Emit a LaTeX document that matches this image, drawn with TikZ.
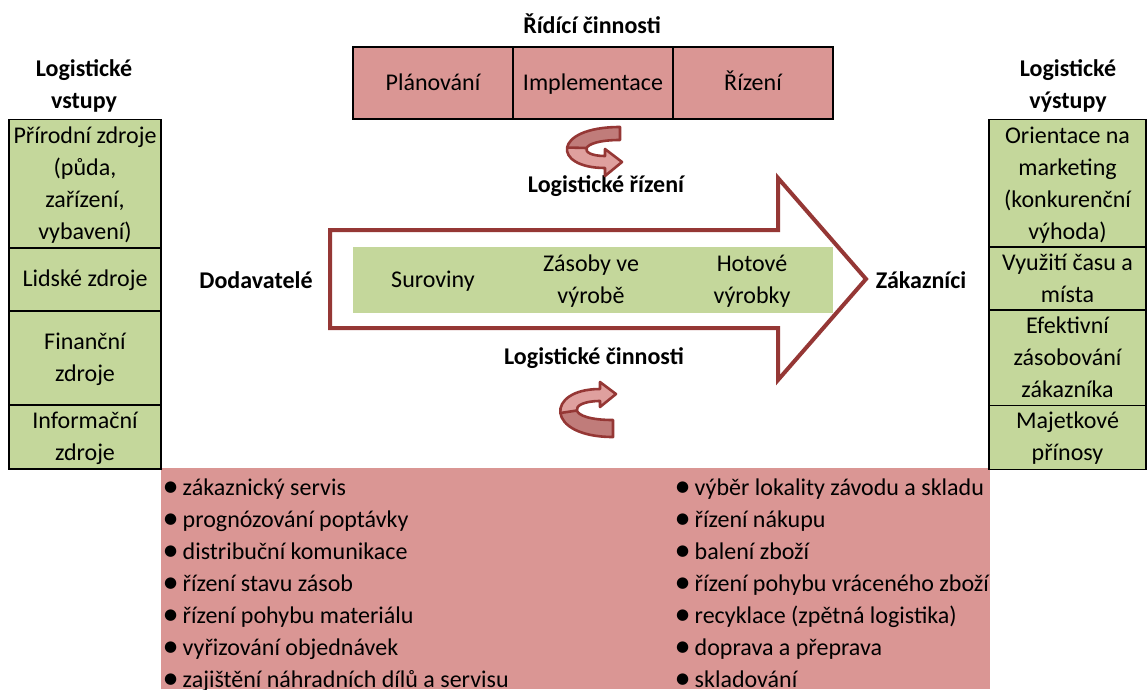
\documentclass[tikz,border=0pt]{standalone}
\usepackage{fontspec}
\setmainfont{Carlito}
\newfontfamily\dejavu{DejaVu Sans}
\definecolor{pinkfill}{HTML}{DA9694}
\definecolor{greenfill}{HTML}{C4D79B}
\definecolor{darkred}{HTML}{953735}
\definecolor{arrowfill}{HTML}{DFA09E}
\definecolor{arrowback}{HTML}{C07C7A}
\newcommand\ms{\rule[-9pt]{0pt}{32pt}}
\newcommand\bul{\raisebox{3.5pt}{\dejavu\fontsize{15}{15}\selectfont ●}}
\begin{document}
\begin{tikzpicture}[x=1pt,y=-1pt,
  txt/.style={inner sep=0pt, font=\fontsize{24}{32}\selectfont, align=center},
  btxt/.style={inner sep=0pt, font=\fontsize{24}{32}\selectfont\bfseries, align=center},
  box/.style={txt, draw=black, line width=1.5pt},
  gbox/.style={box, fill=greenfill},
  pbox/.style={box, fill=pinkfill},
  bigarrow/.style={draw=darkred, line width=4pt, fill=white, line join=miter},
  turnfront/.style={fill=arrowfill},
  turnback/.style={fill=arrowback},
  turnline/.style={draw=darkred, line width=2.6pt, line join=round}]
\useasboundingbox (0,0) rectangle (1147,689);

% bottom activities area
\fill[pinkfill] (161,468) rectangle (990,689);

% headers
\node[btxt] (hin) at (84,85.5) {\ms Logistické\\vstupy\ms};
\node[btxt] (hout) at (1068,85.5) {\ms Logistické\\výstupy\ms};
\node[btxt] (hctrl) at (592,26) {\ms Řídící činnosti};

% left input boxes
\node[gbox, minimum width=152, minimum height=129] (in1) at (85,184) {\ms Přírodní zdroje\\(půda,\\zařízení,\\vybavení)\ms};
\node[gbox, minimum width=152, minimum height=63] (in2) at (85,279.5) {\ms Lidské zdroje\ms};
\node[gbox, minimum width=152, minimum height=95] (in3) at (85,358.5) {\ms Finanční\\zdroje\ms};
\node[gbox, minimum width=152, minimum height=62] (in4) at (85,437) {\ms Informační\\zdroje\ms};

% right output boxes
\node[gbox, minimum width=157, minimum height=129] (out1) at (1067.5,184) {\ms Orientace na\\marketing\\(konkurenční\\výhoda)\ms};
\node[gbox, minimum width=157, minimum height=62] (out2) at (1067.5,279) {\ms Využití času a\\místa\ms};
\node[gbox, minimum width=157, minimum height=97] (out3) at (1067.5,358.5) {\ms Efektivní\\zásobování\\zákazníka\ms};
\node[gbox, minimum width=157, minimum height=61] (out4) at (1067.5,437.5) {\ms Majetkové\\přínosy\ms};

% control boxes
\node[pbox, minimum width=160, minimum height=72] (plan) at (433,83) {\ms Plánování};
\node[pbox, minimum width=160, minimum height=72] (impl) at (593,83) {\ms Implementace};
\node[pbox, minimum width=160, minimum height=72] (riz) at (753,83) {\ms Řízení};

% big flow arrow
\draw[bigarrow] (330,230) -- (778,230) -- (778,178) -- (866,279) -- (778,380) -- (778,328) -- (330,328) -- cycle;
\node[fill=greenfill, minimum width=480, minimum height=66, inner sep=0pt] (band) at (593,280) {};
\node[txt] (sur) at (433,280) {\ms Suroviny};
\node[txt] (zas) at (591,280.5) {\ms Zásoby ve\\výrobě\ms};
\node[txt] (hot) at (752,280.5) {\ms Hotové\\výrobky\ms};

\node[btxt] (dod) at (256,281) {\ms Dodavatelé};
\node[btxt] (zak) at (921,281) {\ms Zákazníci};
\node[btxt] (lr) at (606,185) {\ms Logistické řízení};
\node[btxt] (lc) at (594,357) {\ms Logistické činnosti};

% curved arrow (control)
\fill[turnfront] (620,127) .. controls (552,127) and (552,168) .. (605,168) -- (605,176) -- (622,162) -- (605,149) -- (605,156) .. controls (578,156) and (578,140) .. (620,140) -- cycle;
\fill[turnback] (620,127) .. controls (586,127) and (569,137.25) .. (567.1,147.5) -- (586.6,148) .. controls (588.5,144) and (599,140) .. (620,140) -- cycle;
\draw[turnline] (620,127) .. controls (552,127) and (552,168) .. (605,168) -- (605,176) -- (622,162) -- (605,149) -- (605,156) .. controls (578,156) and (578,140) .. (620,140) -- cycle;
\draw[turnline] (567.1,147.5) -- (586.6,148);
% curved arrow (activities)
\fill[turnfront] (613,437) .. controls (545,437) and (545,389) .. (600,389) -- (600,382) -- (616,394) -- (600,407) -- (600,401) .. controls (568,401) and (566,420) .. (613,420) -- cycle;
\fill[turnback] (613,437) .. controls (579,437) and (562,425) .. (560.4,413) -- (576.9,410.5) .. controls (578.25,415.25) and (589.5,420) .. (613,420) -- cycle;
\draw[turnline] (613,437) .. controls (545,437) and (545,389) .. (600,389) -- (600,382) -- (616,394) -- (600,407) -- (600,401) .. controls (568,401) and (566,420) .. (613,420) -- cycle;
\draw[turnline] (560.4,413) -- (576.9,410.5);

% activity lists
\node[txt, align=left, anchor=north west] (actL) at (164,472) {\ms\bul\ zákaznický servis\\
\bul\ prognózování poptávky\\
\bul\ distribuční komunikace\\
\bul\ řízení stavu zásob\\
\bul\ řízení pohybu materiálu\\
\bul\ vyřizování objednávek\\
\bul\ zajištění náhradních dílů a servisu\ms};
\node[txt, align=left, anchor=north west] (actR) at (676,472) {\ms\bul\ výběr lokality závodu a skladu\\
\bul\ řízení nákupu\\
\bul\ balení zboží\\
\bul\ řízení pohybu vráceného zboží\\
\bul\ recyklace (zpětná logistika)\\
\bul\ doprava a přeprava\\
\bul\ skladování\ms};
\end{tikzpicture}
\end{document}
